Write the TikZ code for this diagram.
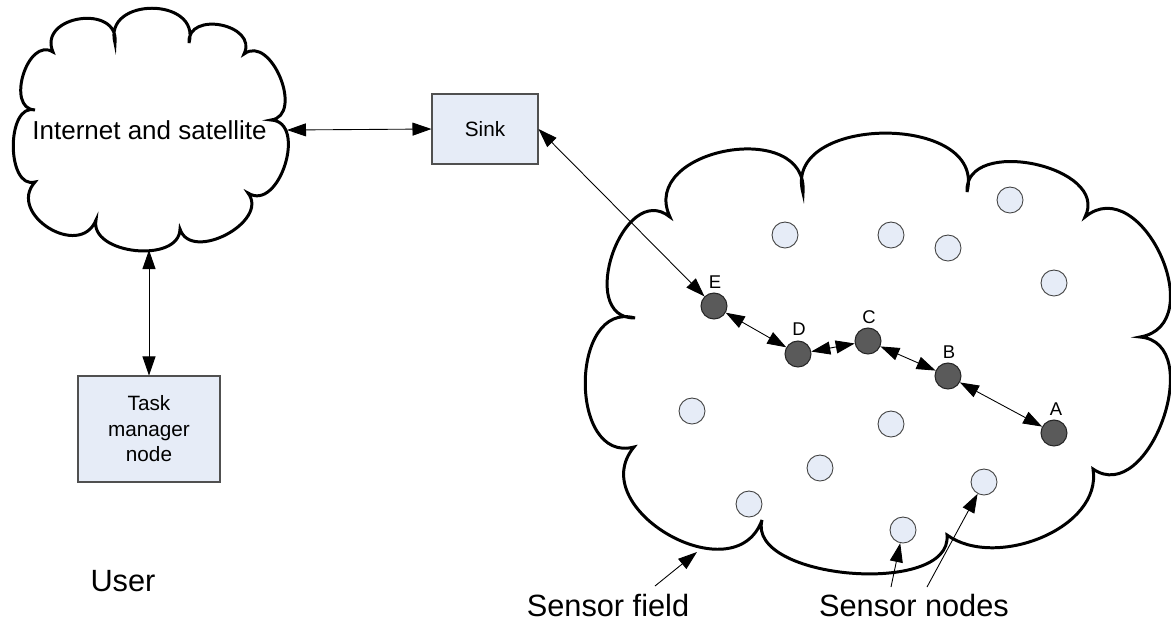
\documentclass[tikz,border=0pt]{standalone}
\usepackage{fontspec}
\setmainfont{Liberation Sans}
\usetikzlibrary{arrows.meta,calc}
\definecolor{nodefill}{HTML}{E6ECF7}
\definecolor{darknode}{HTML}{5A5A5A}
\definecolor{boxline}{HTML}{505050}
% one puff of a cloud outline: from #1 to #2, control distance #3,
% tangent angles #4 (at #1) and #5 (at #2) measured from the chord
\newcommand\lobe[5]{.. controls ($(#1)!#3!#4:(#2)$) and ($(#2)!#3!-#5:(#1)$) .. (#2)}
\tikzset{
  cloudline/.style={line width=1.7pt, line join=miter, fill=white},
  tip/.tip={Triangle[length=0.38cm,width=0.26cm]},
  conn/.style={line width=0.5pt, tip-tip},
  pointer/.style={line width=0.5pt, -tip},
  sensor/.style={circle, draw=black!75, fill=nodefill, line width=0.5pt, minimum size=0.52cm, inner sep=0pt},
  relay/.style={circle, draw=black!85, fill=darknode, line width=0.6pt, minimum size=0.52cm, inner sep=0pt},
  box/.style={draw=boxline, fill=nodefill, line width=0.6pt, inner sep=0pt, align=center},
  tag/.style={font=\fontsize{10.5}{12}\selectfont},
  small/.style={font=\fontsize{11.8}{14.5}\selectfont},
  big/.style={font=\fontsize{17.5}{20}\selectfont},
}
\begin{document}
\begin{tikzpicture}[x=0.02cm, y=-0.02cm]
\useasboundingbox (0,0) rectangle (1171,620);

% ---- Internet and satellite cloud ----
\coordinate (L1) at (53,52);
\coordinate (L2) at (115,43);
\coordinate (L3) at (189,43);
\coordinate (L4) at (244,54);
\coordinate (L5) at (271,120);
\coordinate (L6) at (248,193);
\coordinate (L7) at (180,229);
\coordinate (L8) at (96,220);
\coordinate (L9) at (35,182);
\coordinate (L10) at (35,110);
\draw[cloudline] (L1)
  \lobe{L1}{L2}{0.8cm}{105}{105}
  \lobe{L2}{L3}{0.96cm}{105}{105}
  \lobe{L3}{L4}{0.66cm}{105}{105}
  \lobe{L4}{L5}{0.68cm}{105}{105}
  \lobe{L5}{L6}{0.74cm}{105}{105}
  \lobe{L6}{L7}{0.72cm}{100}{100}
  \lobe{L7}{L8}{0.7cm}{95}{95}
  \lobe{L8}{L9}{0.86cm}{100}{100}
  \lobe{L9}{L10}{0.6cm}{105}{105}
  \lobe{L10}{L1}{0.6cm}{105}{105} -- cycle;
\node[font=\fontsize{14.8}{17}\selectfont] (inet) at (149.5,130) {Internet and satellite};
\coordinate (inetR) at (287,130);
\coordinate (inetB) at (149,250);

% ---- sensor field cloud ----
\coordinate (B1) at (670,217);
\coordinate (B2) at (803,193);
\coordinate (B3) at (967,192);
\coordinate (B4) at (1085,217);
\coordinate (B5) at (1140,337);
\coordinate (B6) at (1093,469);
\coordinate (B7) at (947,535);
\coordinate (B8) at (762,520);
\coordinate (B9) at (634,447);
\coordinate (B10) at (635,318);
\draw[cloudline] (B1)
  \lobe{B1}{B2}{1.52cm}{105}{105}
  \lobe{B2}{B3}{1.64cm}{105}{105}
  \lobe{B3}{B4}{1.14cm}{105}{105}
  \lobe{B4}{B5}{1.46cm}{105}{105}
  \lobe{B5}{B6}{1.36cm}{105}{105}
  \lobe{B6}{B7}{1.2cm}{75}{60}
  \lobe{B7}{B8}{1.24cm}{100}{100}
  \lobe{B8}{B9}{1.6cm}{100}{100}
  \lobe{B9}{B10}{1.36cm}{105}{105}
  \lobe{B10}{B1}{1.2cm}{110}{110} -- cycle;
\coordinate (fieldpt) at (697,552);

% ---- boxes ----
\node[box, small, minimum width=2.12cm, minimum height=1.4cm] (sink) at (485,129) {Sink};
\node[box, small, minimum width=2.84cm, minimum height=2.12cm] (task) at (149,429) {Task\\manager\\node};
\node[big] (user) at (123,581) {User};

% ---- sensor nodes ----
\foreach \n/\p in {n1/{(785,235)}, n2/{(891,235)}, n3/{(948,248)}, n4/{(1010,200)},
                   n5/{(1054,283)}, n6/{(692,411)}, n7/{(891,424)}, n8/{(820,468)},
                   n9/{(749,504)}, n10/{(903,530)}, n11/{(984,482)}}
  \node[sensor] (\n) at \p {};

% ---- relay path nodes ----
\node[relay] (A) at (1054,433) {};
\node[relay] (B) at (948,376) {};
\node[relay] (C) at (868,341) {};
\node[relay] (D) at (798,354) {};
\node[relay] (E) at (714,306) {};
\node[tag] (lA) at (1056,409) {A};
\node[tag] (lB) at (949,352) {B};
\node[tag] (lC) at (869,317) {C};
\node[tag] (lD) at (799,329) {D};
\node[tag] (lE) at (715,282) {E};

% ---- links ----
\draw[conn] (inetR) -- (sink.west);
\draw[conn] (inetB) -- (task.north);
\draw[conn] (sink.east) -- (E);
\draw[conn] (E) -- (D);
\draw[conn] (D) -- (C);
\draw[conn] (C) -- (B);
\draw[conn] (B) -- (A);

% ---- captions ----
\node[big] (sfield) at (608,605) {Sensor field};
\node[big] (snodes) at (914,605) {Sensor nodes};
\coordinate (sf0) at (655,586);
\coordinate (sn0) at (891,587);
\coordinate (sn1) at (927,587);
\draw[pointer] (sf0) -- (fieldpt);
\draw[pointer] (sn0) -- (n10);
\draw[pointer] (sn1) -- (n11);
\end{tikzpicture}
\end{document}
